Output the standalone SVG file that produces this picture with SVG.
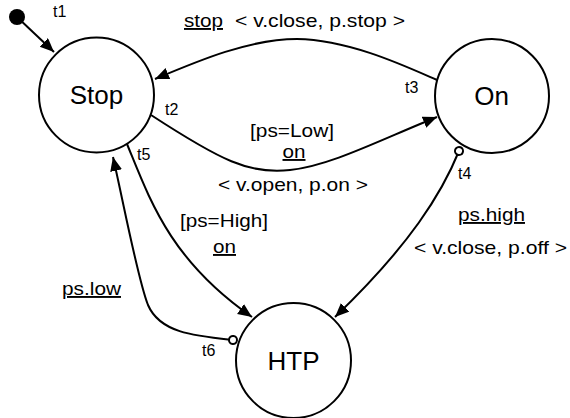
<svg xmlns="http://www.w3.org/2000/svg" width="570" height="418" viewBox="0 0 570 418">
<style>
.state{fill:#fff;stroke:#000;stroke-width:2}
.name{font-family:"Liberation Sans",Arial,Helvetica,sans-serif;font-size:26px;text-anchor:middle;fill:#000}
.lbl{font-family:"Liberation Sans",Arial,Helvetica,sans-serif;font-size:19px;fill:#000}
.mid{text-anchor:middle}
.ul{text-decoration:underline}
.tl{font-family:"Liberation Sans",Arial,Helvetica,sans-serif;font-size:16px;fill:#000}
.edge{fill:none;stroke:#000;stroke-width:2}
</style>
<defs>
<marker id="arrow" markerUnits="userSpaceOnUse" markerWidth="16" markerHeight="14" refX="14" refY="6" orient="auto">
<path d="M0,0 L14,6 L0,12 z" fill="#000"/>
</marker>
<marker id="ring" markerUnits="userSpaceOnUse" markerWidth="12" markerHeight="12" refX="6" refY="6" orient="auto">
<circle cx="6" cy="6" r="4" fill="#fff" stroke="#000" stroke-width="2"/>
</marker>
</defs>

<g id="connectors">
<g id="e-t1">
<circle cx="17" cy="17" r="8" fill="#000"/>
<path class="edge" d="M17,17 L54,52" marker-end="url(#arrow)"/>
<text class="tl" x="53" y="17">t1</text>
</g>
<g id="e-t2">
<path class="edge" d="M151,115 C220,160 250,175 290,170 C330,166 380,140 437,117" marker-end="url(#arrow)"/>
<text class="tl" x="165" y="115">t2</text>
<text class="lbl mid" x="292" y="137" textLength="84" lengthAdjust="spacingAndGlyphs">[ps=Low]</text>
<text class="lbl mid ul" x="294" y="158" textLength="23" lengthAdjust="spacingAndGlyphs">on</text>
<text class="lbl mid" x="293" y="191" textLength="150" lengthAdjust="spacingAndGlyphs">&lt; v.open, p.on &gt;</text>
</g>
<g id="e-t3">
<path class="edge" d="M437,80 C405,66 350,40 297,39 C250,39 200,60 155,79" marker-end="url(#arrow)"/>
<text class="tl" x="405" y="93">t3</text>
<text class="lbl ul" x="184" y="27" textLength="39" lengthAdjust="spacingAndGlyphs">stop</text>
<text class="lbl" x="235" y="27" textLength="170" lengthAdjust="spacingAndGlyphs">&lt; v.close, p.stop &gt;</text>
</g>
<g id="e-t4">
<path class="edge" d="M459,151 C442,193 410,245 335,317" marker-start="url(#ring)" marker-end="url(#arrow)"/>
<text class="tl" x="458" y="179">t4</text>
<text class="lbl mid ul" x="491.5" y="221" textLength="67" lengthAdjust="spacingAndGlyphs">ps.high</text>
<text class="lbl mid" x="490.5" y="254" textLength="153" lengthAdjust="spacingAndGlyphs">&lt; v.close, p.off &gt;</text>
</g>
<g id="e-t5">
<path class="edge" d="M127,144 C150,200 170,260 252,317" marker-end="url(#arrow)"/>
<text class="tl" x="137" y="160">t5</text>
<text class="lbl mid" x="224" y="227" textLength="88" lengthAdjust="spacingAndGlyphs">[ps=High]</text>
<text class="lbl mid ul" x="224.5" y="253" textLength="23" lengthAdjust="spacingAndGlyphs">on</text>
</g>
<g id="e-t6">
<path class="edge" d="M233,340 C195,336 160,333 148,305 C138,280 125,210 113,157" marker-start="url(#ring)" marker-end="url(#arrow)"/>
<text class="tl" x="202" y="356">t6</text>
<text class="lbl mid ul" x="91.5" y="295" textLength="59" lengthAdjust="spacingAndGlyphs">ps.low</text>
</g>
</g>

<g id="Stop">
<circle class="state" cx="96.5" cy="95" r="57.5"/>
<text class="name" x="96.5" y="104">Stop</text>
</g>
<g id="On">
<circle class="state" cx="492" cy="96" r="57"/>
<text class="name" x="491.5" y="105">On</text>
</g>
<g id="HTP">
<circle class="state" cx="293.5" cy="360.5" r="57.5"/>
<text class="name" x="293.5" y="370">HTP</text>
</g>
</svg>
